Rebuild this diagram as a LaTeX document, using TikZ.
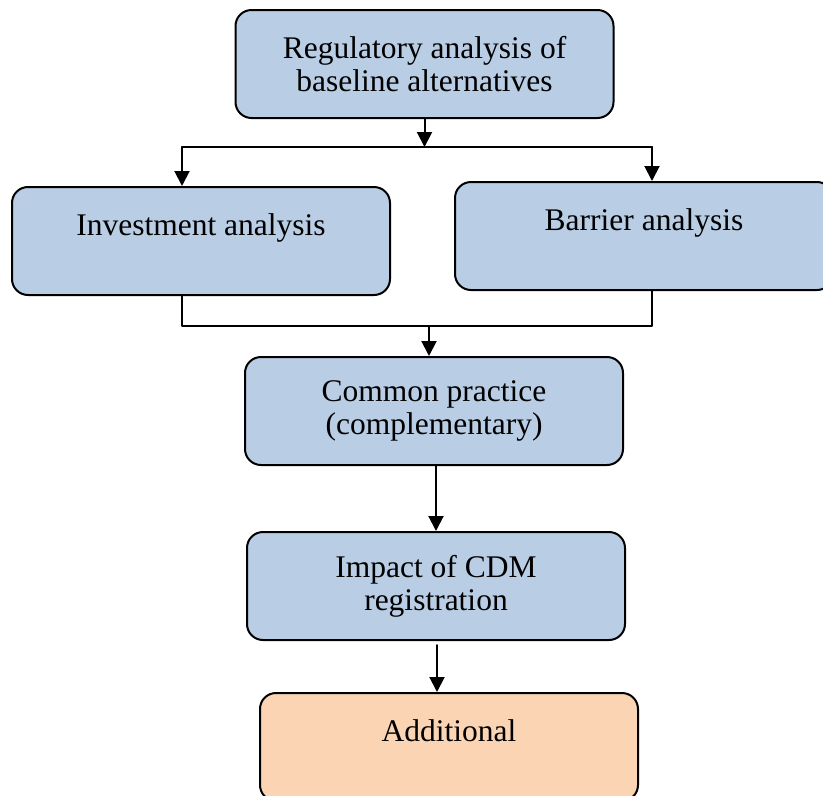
\documentclass[tikz,border=0pt]{standalone}
\usepackage{fontspec}
\setmainfont{Liberation Serif}
\usepackage{tikz}
\usetikzlibrary{arrows.meta}
\definecolor{boxblue}{HTML}{B9CDE5}
\definecolor{boxorange}{HTML}{FBD4B4}

\begin{document}
\begin{tikzpicture}[line cap=round,line join=round,x=1pt,y=-1pt,
	>={Triangle[length=15pt,width=15pt]},
	stepbox/.style={draw=black,line width=2pt,rounded corners=16pt,fill=boxblue,
		minimum width=378pt,minimum height=108pt,align=center,inner sep=0pt,
		font=\fontsize{31.5}{33}\selectfont},
	link/.style={line width=2pt}]
		\useasboundingbox (0,0) rectangle (823,796);
		\clip (0,0) rectangle (823,796);
		\node[stepbox] (reg) at (424.5,64) {Regulatory analysis of\\baseline alternatives};
		\node[stepbox] (inv) at (201,241) {Investment analysis\\\mbox{}};
		\node[stepbox] (bar) at (644,236) {Barrier analysis\\\mbox{}};
		\node[stepbox] (com) at (434,411) {Common practice\\(complementary)};
		\node[stepbox] (imp) at (436,586) {Impact of CDM\\registration};
		\node[stepbox,fill=boxorange] (add) at (449,747) {Additional\\\mbox{}};
		% split below the first box
		\coordinate (split) at (424.5,147);
		\coordinate (splitl) at (182,147);
		\coordinate (splitr) at (652,147);
		\draw[link,->] (reg.south) -- (split);
		\draw[link,->] (splitl) -- (splitl |- inv.north);
		\draw[link,->] (splitr) -- (splitr |- bar.north);
		\draw[link] (splitl) -- (splitr);
		% join above common practice
		\coordinate (joinl) at (182,326);
		\coordinate (joinr) at (652,326);
		\coordinate (join) at (429,326);
		\draw[link] (joinl |- inv.south) -- (joinl) -- (joinr) -- (joinr |- bar.south);
		\draw[link,->] (join) -- (join |- com.north);
		\draw[link,->] (imp.north |- com.south) -- (imp.north);
		\coordinate (lowtop) at (437,645);
		\draw[link,->] (lowtop) -- (lowtop |- add.north);
\end{tikzpicture}
\end{document}
